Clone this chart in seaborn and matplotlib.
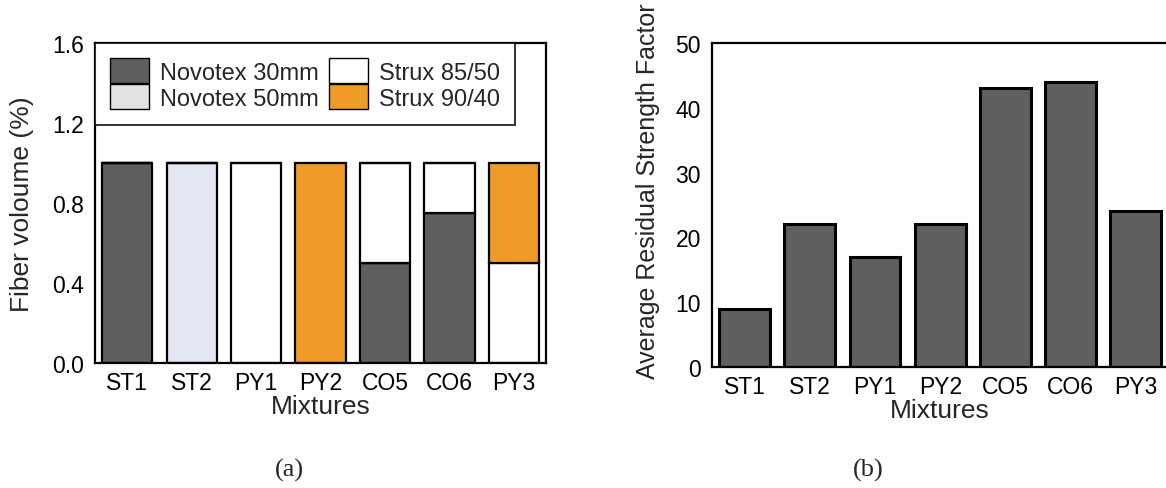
import numpy as np
import pandas as pd
import matplotlib
matplotlib.use("Agg")
import matplotlib.pyplot as plt
from matplotlib.patches import Patch
import seaborn as sns

mixtures = ["ST1", "ST2", "PY1", "PY2", "CO5", "CO6", "PY3"]
novotex30 = [1.0, 0.0, 0.0, 0.0, 0.5, 0.75, 0.0]
novotex50 = [0.0, 1.0, 0.0, 0.0, 0.0, 0.0, 0.0]
strux85 = [0.0, 0.0, 1.0, 0.0, 0.5, 0.25, 0.5]
strux90 = [0.0, 0.0, 0.0, 1.0, 0.0, 0.0, 0.5]
residual = [9, 22, 17, 22, 43, 44, 24]

sns.set_style("white")
plt.rcParams['font.family'] = ['Liberation Sans', 'DejaVu Sans']
plt.rcParams['axes.unicode_minus'] = False

dark = "#5f5f5f"
light = "#e3e3e3"
lav = "#e6e6f2"
orange = "#ef9b28"
tick_fs = 16.5
lab_fs = 19

fig = plt.figure(figsize=(11.66, 4.89), dpi=100)
ax1 = fig.add_axes([0.0815, 0.2556, 0.3868, 0.6544])
ax2 = fig.add_axes([0.6106, 0.2474, 0.3915, 0.6626])

# (a) stacked fiber volume
layers = [(novotex30, dark), (novotex50, lav), (strux85, "white"), (strux90, orange)]
bottom = np.zeros(len(mixtures))
for vals, col in layers:
    df = pd.DataFrame({"Mixtures": mixtures, "v": vals})
    sns.barplot(data=df, x="Mixtures", y="v", color=col, bottom=bottom, width=0.78,
                edgecolor="black", linewidth=1.6, saturation=1, ax=ax1)
    bottom = bottom + np.array(vals)

ax1.set_ylim(0, 1.6)
ax1.set_yticks([0.0, 0.4, 0.8, 1.2, 1.6])
ax1.set_yticklabels(["0.0", "0.4", "0.8", "1.2", "1.6"])
ax1.set_xlim(-0.5, 6.5)
ax1.set_ylabel("Fiber voloume (%)", fontsize=lab_fs, labelpad=13)
ax1.set_xlabel("Mixtures", fontsize=lab_fs, labelpad=0)

handles = [Patch(facecolor=dark, edgecolor="black", label="Novotex 30mm"),
           Patch(facecolor=light, edgecolor="black", label="Novotex 50mm"),
           Patch(facecolor="white", edgecolor="black", label="Strux 85/50"),
           Patch(facecolor=orange, edgecolor="black", label="Strux 90/40")]
leg = ax1.legend(handles=handles, ncol=2, loc="upper left", borderaxespad=0,
                 fontsize=17, fancybox=False, frameon=True, edgecolor="black",
                 handlelength=1.65, handleheight=1.25, labelspacing=0.02,
                 columnspacing=0.45, handletextpad=0.45, borderpad=0.65)
leg.get_frame().set_linewidth(1.4)

# (b) residual strength
df2 = pd.DataFrame({"Mixtures": mixtures, "ARS": residual})
sns.barplot(data=df2, x="Mixtures", y="ARS", color=dark, width=0.78,
            edgecolor="black", linewidth=2.2, saturation=1, ax=ax2)
ax2.set_ylim(0, 50)
ax2.set_yticks([0, 10, 20, 30, 40, 50])
ax2.set_xlim(-0.5, 6.5)
ax2.set_ylabel("Average Residual Strength Factor", fontsize=18)
ax2.yaxis.set_label_coords(-0.114, 0.546)
ax2.set_xlabel("Mixtures", fontsize=lab_fs, labelpad=0)

for ax in (ax1, ax2):
    ax.tick_params(axis="both", length=0, labelsize=tick_fs, pad=8, colors="black")
    ax.tick_params(axis="x", pad=6)
    for s in ax.spines.values():
        s.set_visible(True)
        s.set_color("black")
        s.set_linewidth(1.6)

fig.text(0.248, 0.025, "(a)", family="Liberation Serif", fontsize=19, ha="center")
fig.text(0.745, 0.025, "(b)", family="Liberation Serif", fontsize=19, ha="center")

fig.savefig("out.png", dpi=100, facecolor="white")
